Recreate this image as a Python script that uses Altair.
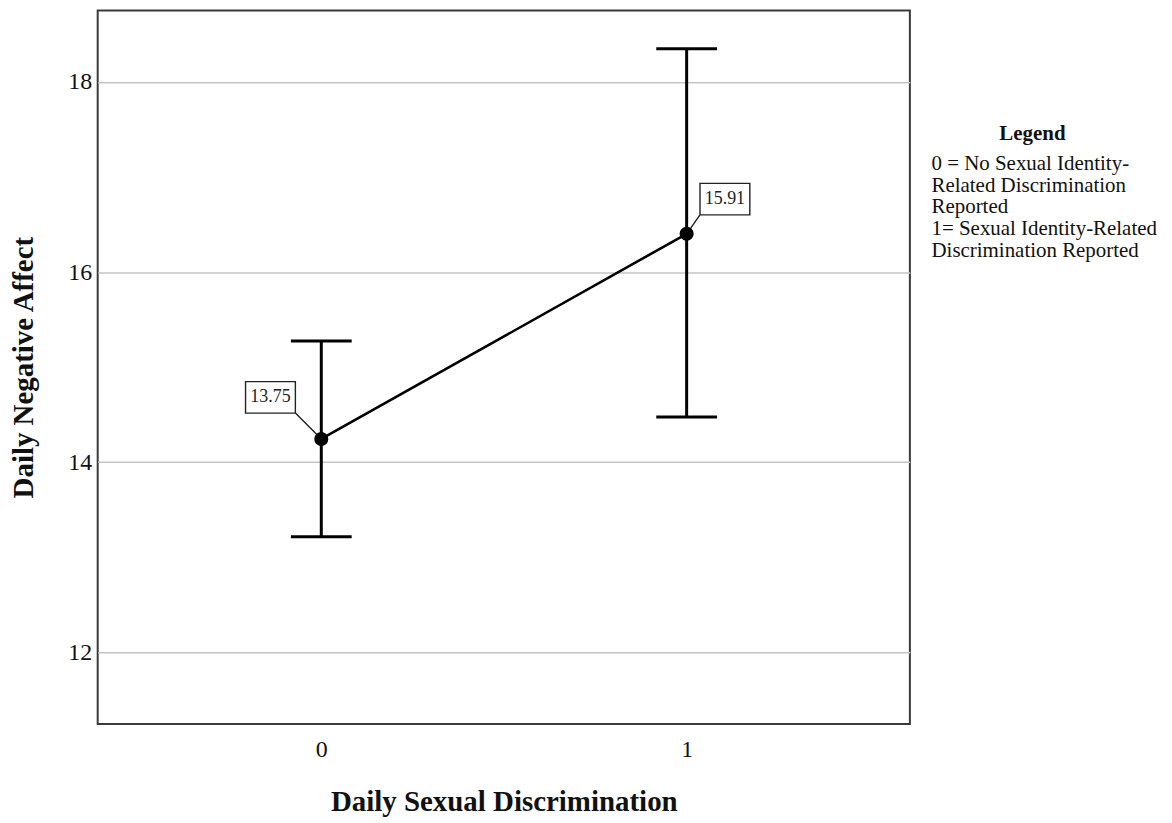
import altair as alt
import pandas as pd

# ---- data ----
categories = [0, 1]
keys = ["0", "1"]
means = [14.245, 16.402]
ci_low = [13.218, 14.476]
ci_high = [15.275, 18.346]
value_labels = ["13.75", "15.91"]

x_ticks = [0, 1]
y_ticks = [12, 14, 16, 18]
x_title = "Daily Sexual Discrimination"
y_title = "Daily Negative Affect"
legend_title = "Legend"
legend_lines = [
    "0 = No Sexual Identity-",
    "Related Discrimination",
    "Reported",
    "1= Sexual Identity-Related",
    "Discrimination Reported",
]

df = pd.DataFrame({
    "cat": categories,
    "key": keys,
    "mean": means,
    "lo": ci_low,
    "hi": ci_high,
    "label": value_labels,
})

FONT = "Liberation Serif"
INK = "#111111"

xs = alt.Scale(domain=[-0.612, 1.611], nice=False, zero=False)
ys = alt.Scale(domain=[11.25, 18.75], nice=False, zero=False)

x_axis = alt.Axis(values=x_ticks, format="d", grid=False, ticks=False, domain=False,
                  labelFont=FONT, labelFontSize=24, labelPadding=14, labelColor=INK,
                  titleFont=FONT, titleFontSize=29, titleFontWeight="bold", titleColor=INK,
                  titleY=87, titleBaseline="alphabetic")
y_axis = alt.Axis(values=y_ticks, grid=True, gridColor="#c4c4c4", gridWidth=1.5,
                  ticks=False, domain=False,
                  labelFont=FONT, labelFontSize=24, labelPadding=6, labelColor=INK,
                  titleFont=FONT, titleFontSize=29, titleFontWeight="bold", titleColor=INK,
                  titleX=-65, titleBaseline="alphabetic")

X = alt.X("cat:Q", scale=xs, axis=x_axis, title=x_title)


def Y(field):
    return alt.Y(f"{field}:Q", scale=ys, axis=y_axis, title=y_title)


base = alt.Chart(df)

# label boxes with leader lines (shape geometry in symbol units, scaled by size)
path0 = "M-3.04,-2.304L-1.04,-2.304L-1.04,-1.04L-3.04,-1.04ZM-1.04,-1.04L0,0"
path1 = "M0.536,-2.024L2.536,-2.024L2.536,-0.76L0.536,-0.76ZM0.536,-0.76L0,0"
boxes = base.mark_point(size=2500, filled=True, fill="white", stroke="#222222",
                        strokeWidth=1.4, opacity=1).encode(
    x=X, y=Y("mean"),
    shape=alt.Shape("key:N", scale=alt.Scale(domain=keys, range=[path0, path1]), legend=None),
)

err = base.mark_rule(color="black", strokeWidth=3).encode(x=X, y=Y("lo"), y2="hi:Q")
cap_lo = base.mark_tick(orient="horizontal", size=61, thickness=3, color="black", opacity=1).encode(x=X, y=Y("lo"))
cap_hi = base.mark_tick(orient="horizontal", size=61, thickness=3, color="black", opacity=1).encode(x=X, y=Y("hi"))
line = base.mark_line(color="black", strokeWidth=2.6).encode(x=X, y=Y("mean"))
pts = base.mark_circle(size=200, color="black", opacity=1).encode(x=X, y=Y("mean"))

txt0 = base.transform_filter(alt.datum.key == "0").mark_text(
    font=FONT, fontSize=18, color="#222222", dx=-51, dy=-41.8, align="center", baseline="middle"
).encode(x=X, y=Y("mean"), text="label:N")
txt1 = base.transform_filter(alt.datum.key == "1").mark_text(
    font=FONT, fontSize=18, color="#222222", dx=38.4, dy=-34.8, align="center", baseline="middle"
).encode(x=X, y=Y("mean"), text="label:N")

leg_df = pd.DataFrame({"title": [legend_title], "body": ["\n".join(legend_lines)]})
leg_title = alt.Chart(leg_df).mark_text(
    font=FONT, fontSize=21, fontWeight="bold", color=INK, align="center", baseline="middle"
).encode(text="title:N", x=alt.value(938), y=alt.value(124))
leg_body = alt.Chart(leg_df).mark_text(
    font=FONT, fontSize=21, color=INK, align="left", baseline="middle",
    lineBreak="\n", lineHeight=21.8
).encode(text="body:N", x=alt.value(836.7), y=alt.value(154))

chart = alt.layer(boxes, err, cap_lo, cap_hi, line, pts, txt0, txt1, leg_title, leg_body).properties(
    width=815, height=716,
    autosize=alt.AutoSizeParams(type="none"),
    padding={"left": 90, "top": 1, "right": 255, "bottom": 97},
    background="white",
).configure_view(stroke="#3a3a3a", strokeWidth=2)

chart.save("out.html", embed_options={"renderer": "svg", "actions": False})
